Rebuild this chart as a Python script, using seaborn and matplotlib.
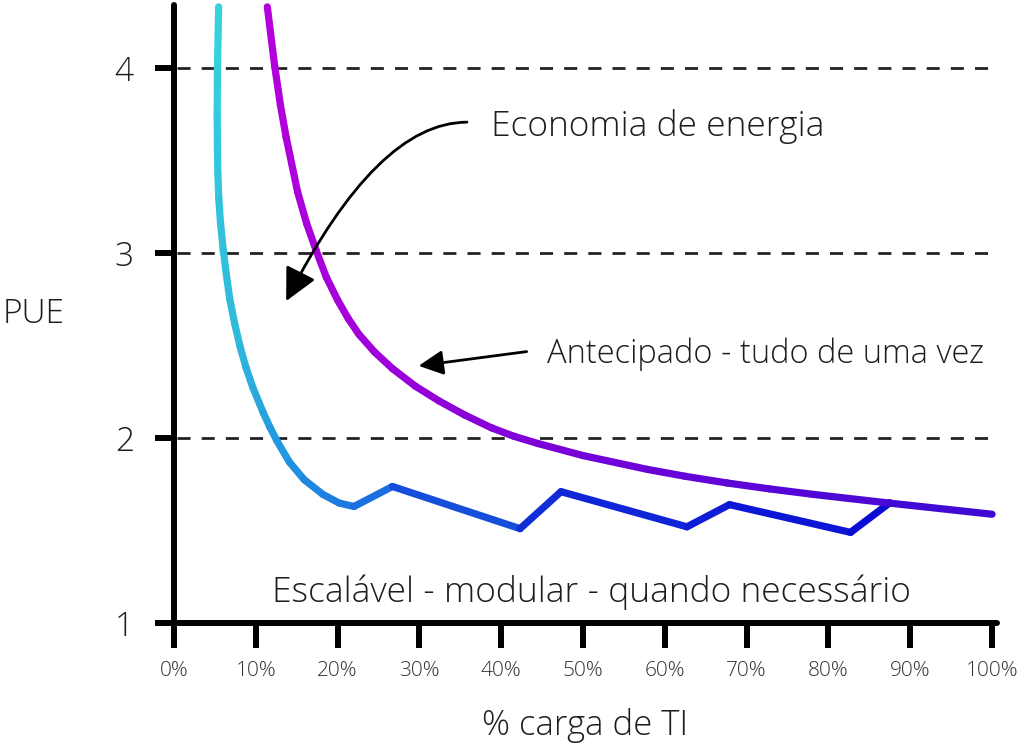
import matplotlib
matplotlib.use("Agg")
import matplotlib.pyplot as plt
import numpy as np
import seaborn as sns
from matplotlib.collections import LineCollection
from matplotlib.colors import LinearSegmentedColormap

# x axis: % IT load, y axis: PUE
x_ticks = [0, 10, 20, 30, 40, 50, 60, 70, 80, 90, 100]
x_tick_labels = ["0%", "10%", "20%", "30%", "40%", "50%", "60%", "70%", "80%", "90%", "100%"]
y_ticks = [1, 2, 3, 4]
grid_levels = [2, 3, 4]

# "Antecipado - tudo de uma vez" curve
antecipado_x = [11.4, 12.3, 13.0, 13.7, 15.1, 16.2, 17.4, 18.6, 20.0, 21.3, 22.6,
                24.5, 26.7, 29.5, 32.4, 35.5, 38.8, 41.5, 44.5, 50.0, 57.9, 62.5,
                67.6, 72.8, 78.2, 87.5, 100.0]
antecipado_y = [4.33, 4.01, 3.80, 3.625, 3.33, 3.16, 3.01, 2.87, 2.745, 2.645, 2.56,
                2.465, 2.375, 2.28, 2.20, 2.125, 2.055, 2.01, 1.97, 1.905, 1.83, 1.793,
                1.757, 1.725, 1.695, 1.648, 1.588]

# "Escalável - modular" curve
escalavel_x = [5.45, 5.3, 5.27, 5.3, 5.35, 5.47, 5.68, 6.0, 6.4, 6.81, 7.4, 8.03,
               8.8, 9.65, 10.87, 11.7, 12.57, 14.1, 15.9, 18.2, 20.2, 22.0,
               26.7, 42.3, 47.3, 62.7, 67.9, 82.7, 87.5]
escalavel_y = [4.33, 4.0, 3.75, 3.56, 3.43, 3.29, 3.16, 3.02, 2.88, 2.75, 2.62, 2.50,
               2.38, 2.27, 2.14, 2.06, 1.985, 1.87, 1.775, 1.695, 1.648, 1.630,
               1.738, 1.51, 1.71, 1.52, 1.64, 1.49, 1.65]

sns.set_style("white")
plt.rcParams["font.family"] = ["Open Sans", "DejaVu Sans"]

fig = plt.figure(figsize=(10.24, 7.53), dpi=100)
ax = fig.add_axes([0.170, 0.1726, 0.8036, 0.8207])
ax.set_xlim(0, 100.6)
ax.set_ylim(1, 4.34)

text_color = "#1e1e1e"


def gradient_line(xs, ys, colors, lw):
    xs = np.asarray(xs)
    ys = np.asarray(ys)
    # colour by path length in (approximate) pixel units
    d = np.hypot(np.diff(xs) * 8.22, np.diff(ys) * 185)
    cum = np.concatenate([[0], np.cumsum(d)])
    mid = (cum[:-1] + cum[1:]) / 2 / cum[-1]
    cmap = LinearSegmentedColormap.from_list("g", colors)
    pts = np.column_stack([xs, ys]).reshape(-1, 1, 2)
    segs = np.concatenate([pts[:-1], pts[1:]], axis=1)
    lc = LineCollection(segs, colors=cmap(mid), linewidths=lw,
                        capstyle="round", joinstyle="round", zorder=3)
    lc.set_clip_on(False)
    ax.add_collection(lc)


# dashed reference lines
ax.hlines(grid_levels, 0.3, 100.6, colors="#222222", linestyles=(0, (4.7, 4.0)),
          lw=2.0, zorder=1)

gradient_line(escalavel_x, escalavel_y,
              [(0, "#36d3dc"), (0.3, "#2fb8dc"), (0.42, "#2090e0"),
               (0.52, "#1a68de"), (0.65, "#1030d8"), (1, "#0a0cd4")], 5.2)
gradient_line(antecipado_x, antecipado_y,
              [(0, "#b600dc"), (0.35, "#a200da"), (0.6, "#7400d8"),
               (1, "#3a0ad4")], 5.2)

# axes styling
for side in ["top", "right"]:
    ax.spines[side].set_visible(False)
for side in ["left", "bottom"]:
    ax.spines[side].set_linewidth(4.3)
    ax.spines[side].set_color("black")
    ax.spines[side].set_capstyle("round")

ax.set_xticks(x_ticks)
ax.set_xticklabels(x_tick_labels)
ax.set_yticks(y_ticks)
ax.set_yticklabels([str(v) for v in y_ticks])
ax.tick_params(axis="x", bottom=True, direction="out", length=18, width=4.3, pad=9,
               labelsize=15, labelcolor="#333333", color="black")
ax.tick_params(axis="y", left=True, direction="out", length=14, width=4.3, pad=15,
               labelsize=24, labelcolor=text_color, color="black")
for lab in ax.get_xticklabels() + ax.get_yticklabels():
    lab.set_fontweight("light")

ax.set_xlabel("% carga de TI", fontsize=25, color=text_color, fontweight="light",
              va="center")
ax.xaxis.set_label_coords(0.5, -0.165)
ax.set_ylabel("PUE", fontsize=24, color=text_color, fontweight="light",
              rotation=0, ha="center", va="center")
ax.yaxis.set_label_coords(-0.171, 0.5)

# annotations
ax.text(38.8, 3.685, "Economia de energia", fontsize=25.5, color=text_color,
        fontweight="light", ha="left", va="center")
ax.text(45.6, 2.45, "Antecipado - tudo de uma vez", fontsize=23.5, color=text_color,
        fontweight="light", ha="left", va="center")
ax.text(51.0, 1.168, "Escalável - modular - quando necessário", fontsize=25.5,
        color=text_color, fontweight="light", ha="center", va="center")

ax.annotate("", xy=(13.7, 2.74), xytext=(35.8, 3.707),
            arrowprops=dict(arrowstyle="-|>,head_length=0.8,head_width=0.4",
                            connectionstyle="angle3,angleA=0,angleB=63", color="black",
                            lw=2.0, mutation_scale=25, shrinkA=0, shrinkB=0),
            zorder=4)
ax.annotate("", xy=(29.9, 2.39), xytext=(43.1, 2.467),
            arrowprops=dict(arrowstyle="-|>,head_length=0.6,head_width=0.3",
                            color="black", lw=2.0, mutation_scale=25,
                            shrinkA=0, shrinkB=0),
            zorder=4)

fig.savefig("out.png", dpi=100, facecolor="white")
